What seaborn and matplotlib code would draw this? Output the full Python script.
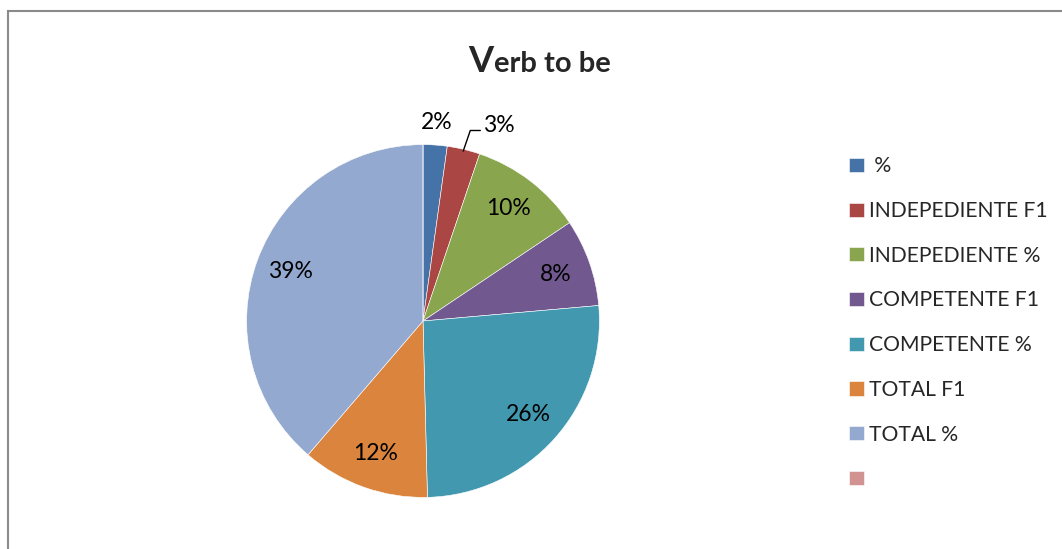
import matplotlib
matplotlib.use("Agg")
import matplotlib.pyplot as plt
import numpy as np
import seaborn as sns
from matplotlib.lines import Line2D
from matplotlib.patches import Rectangle

# chart data (percent of total)
categories = [" %", "INDEPEDIENTE F1", "INDEPEDIENTE %", "COMPETENTE F1",
              "COMPETENTE %", "TOTAL F1", "TOTAL %", ""]
shares = [2.2, 3.0, 10.4, 8.0, 26.0, 11.7, 38.7, 0.0]
slice_colors = ["#4572A7", "#AA4643", "#89A54E", "#71588F",
                "#4198AF", "#DB843D", "#93A9CF", "#D19392"]

sns.set_theme(style="white")
plt.rcParams["font.family"] = ["Lato", "DejaVu Sans"]

W, H = 1062, 549
fig = plt.figure(figsize=(W / 100, H / 100), dpi=100)
fig.patch.set_facecolor("white")

# pie axes: centre ~ (423, 321) px, radius ~176 px
ax = fig.add_axes([202.5 / W, 7.5 / H, 441 / W, 441 / H])
palette = sns.color_palette(slice_colors)
wedges, texts, autotexts = ax.pie(
    shares,
    colors=palette,
    startangle=90,
    counterclock=False,
    autopct=lambda p: f"{p:.0f}%" if p > 0 else "",
    pctdistance=0.8,
    wedgeprops=dict(edgecolor="white", linewidth=0.4),
    textprops=dict(fontsize=16.5, color="black"),
)
ax.set_xlim(-1.25, 1.25)
ax.set_ylim(-1.25, 1.25)

# the two thin slices get their labels outside the pie
mid0 = np.deg2rad((wedges[0].theta1 + wedges[0].theta2) / 2)
autotexts[0].set_position((1.13 * np.cos(mid0), 1.13 * np.sin(mid0)))

mid1 = np.deg2rad((wedges[1].theta1 + wedges[1].theta2) / 2)
ax0, ay0 = 0.99 * np.cos(mid1), 0.99 * np.sin(mid1)
autotexts[1].set_position((ax0 + 0.11, 1.11))
autotexts[1].set_ha("left")
ax.add_line(Line2D([ax0, ax0 + 0.04, ax0 + 0.097], [ay0, 1.08, 1.08],
                   color="black", linewidth=1.0, clip_on=False))
for t in autotexts:
    t.set_clip_on(False)

# title: big V followed by smaller bold text
fig.text(493 / W, 1 - 72 / H, "V", fontsize=26, fontweight="bold",
         ha="right", va="baseline")
fig.text(494 / W, 1 - 72 / H, "erb to be", fontsize=21, fontweight="bold",
         ha="left", va="baseline")

fig.legend(
    wedges, categories,
    loc="upper left",
    bbox_to_anchor=(841.5 / W, 1 - 149 / H),
    frameon=False,
    fontsize=15.2,
    handlelength=0.7,
    handleheight=0.65,
    handletextpad=0.25,
    labelspacing=1.17,
    borderpad=0.35,
    borderaxespad=0,
)

# chart-area border (only top and left edges are inside the picture)
fig.add_artist(Rectangle((8 / W, -0.1), 1.5, (H - 10.5) / H + 0.1,
                         transform=fig.transFigure, fill=False,
                         edgecolor="#8a8a8a", linewidth=1.5, clip_on=False))

fig.savefig("out.png", dpi=100)
